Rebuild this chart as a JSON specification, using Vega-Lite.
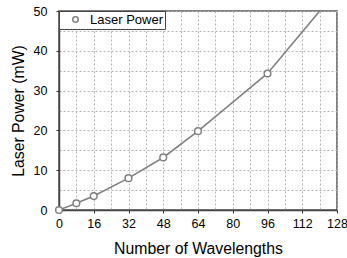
{
  "$schema": "https://vega.github.io/schema/vega-lite/v6.json",
  "width": 278,
  "height": 199,
  "autosize": {"type": "none"},
  "padding": {"left": 59, "top": 11, "right": 10, "bottom": 48},
  "background": "white",
  "config": {
    "font": "Liberation Sans",
    "view": {"stroke": "#555", "strokeWidth": 1.5},
    "axis": {
      "domainColor": "#444",
      "domainWidth": 1.5,
      "tickColor": "#333",
      "tickWidth": 1,
      "tickSize": 3,
      "gridColor": "#b4b4b4",
      "gridDash": [2, 2],
      "gridWidth": 1,
      "gridOpacity": 1,
      "labelFontSize": 12.5,
      "labelColor": "#000",
      "titleFontSize": 15.8,
      "titleFontWeight": "normal",
      "titleColor": "#000"
    }
  },
  "data": {
    "values": [
      {"n": 0, "p": 0, "s": "Laser Power", "pt": true},
      {"n": 8, "p": 1.7, "s": "Laser Power", "pt": true},
      {"n": 16, "p": 3.5, "s": "Laser Power", "pt": true},
      {"n": 32, "p": 8.0, "s": "Laser Power", "pt": true},
      {"n": 48, "p": 13.2, "s": "Laser Power", "pt": true},
      {"n": 64, "p": 19.8, "s": "Laser Power", "pt": true},
      {"n": 96, "p": 34.3, "s": "Laser Power", "pt": true},
      {"n": 128, "p": 55.2, "s": "Laser Power", "pt": false}
    ]
  },
  "encoding": {
    "x": {
      "field": "n", "type": "quantitative",
      "scale": {"domain": [0, 128], "nice": false},
      "axis": {
        "grid": true,
        "values": [0, 8, 16, 24, 32, 40, 48, 56, 64, 72, 80, 88, 96, 104, 112, 120, 128],
        "labelExpr": "datum.value % 16 === 0 ? datum.label : ''",
        "tickOpacity": {"condition": {"test": "datum.value % 16 === 0", "value": 1}, "value": 0},
        "labelPadding": 4,
        "labelFlush": false,
        "labelOverlap": false,
        "title": "Number of Wavelengths",
        "titlePadding": 12
      }
    },
    "y": {
      "field": "p", "type": "quantitative",
      "scale": {"domain": [0, 50], "nice": false},
      "axis": {
        "grid": true,
        "values": [0, 5, 10, 15, 20, 25, 30, 35, 40, 45, 50],
        "labelExpr": "datum.value % 10 === 0 ? datum.label : ''",
        "tickOpacity": {"condition": {"test": "datum.value % 10 === 0", "value": 1}, "value": 0},
        "labelPadding": 9,
        "labelFlush": false,
        "labelOverlap": false,
        "title": "Laser Power (mW)",
        "titlePadding": 7
      }
    }
  },
  "layer": [
    {
      "mark": {"type": "line", "color": "#808080", "strokeWidth": 1.6, "clip": true}
    },
    {
      "transform": [{"filter": "datum.pt"}],
      "mark": {"type": "point", "shape": "circle", "filled": false, "fill": "white", "strokeWidth": 1.5, "size": 45, "opacity": 1, "clip": false},
      "encoding": {
        "color": {
          "field": "s", "type": "nominal",
          "scale": {"range": ["#808080"]},
          "legend": {
            "title": null,
            "orient": "top-left",
            "offset": 0,
            "padding": 2,
            "strokeColor": "#444",
            "fillColor": "white",
            "labelFontSize": 13,
            "labelColor": "#000",
            "symbolType": "circle",
            "symbolFillColor": "white",
            "symbolStrokeWidth": 1.5,
            "symbolSize": 30,
            "symbolOffset": 8,
            "labelOffset": 8,
            "labelLimit": 200
          }
        }
      }
    }
  ]
}
